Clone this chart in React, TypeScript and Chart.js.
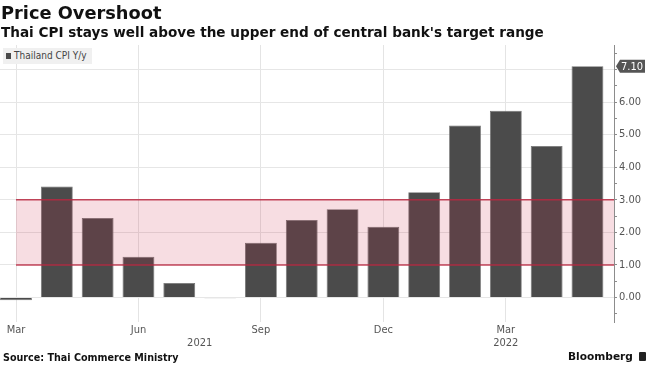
import React, { useEffect, useRef } from 'react';
import { Chart, registerables } from 'chart.js';

Chart.register(...registerables);

const months = ['Mar', 'Apr', 'May', 'Jun', 'Jul', 'Aug', 'Sep', 'Oct', 'Nov', 'Dec', 'Jan', 'Feb', 'Mar', 'Apr', 'May'];
const monthYears = [2021, 2021, 2021, 2021, 2021, 2021, 2021, 2021, 2021, 2021, 2022, 2022, 2022, 2022, 2022];
const cpiYoY = [-0.08, 3.41, 2.44, 1.25, 0.45, -0.02, 1.68, 2.38, 2.71, 2.17, 3.23, 5.28, 5.73, 4.65, 7.1];
const labelledMonths = ['Mar', 'Jun', 'Sep', 'Dec'];
const targetRange = [1, 3];
const yLabelValues = [0, 1, 2, 3, 4, 5, 6];
const yGridValues = [0, 1, 2, 3, 4, 5, 6, 7];
const yMinorTicks = [-0.5, 0, 0.5, 1, 1.5, 2, 2.5, 3, 3.5, 4, 4.5, 5, 5.5, 6, 6.5, 7, 7.5];
const latestValue = 7.1;

const TICK_FONT = '"DejaVu Sans Condensed", "DejaVu Sans", sans-serif';

const overlayPlugin = {
  id: 'overlays',
  afterDatasetsDraw(chart: any) {
    const { ctx, chartArea, scales } = chart;
    const x = scales.x;
    const y = scales.y;
    const left = x.getPixelForValue(0);
    const right = chartArea.right;
    const yTop = y.getPixelForValue(targetRange[1]);
    const yBot = y.getPixelForValue(targetRange[0]);
    ctx.save();
    ctx.fillStyle = 'rgba(200,30,60,0.15)';
    ctx.fillRect(left, yTop, right - left, yBot - yTop);
    ctx.strokeStyle = 'rgba(185,40,65,0.85)';
    ctx.lineWidth = 1.5;
    ctx.beginPath();
    ctx.moveTo(left, yTop);
    ctx.lineTo(right, yTop);
    ctx.moveTo(left, yBot);
    ctx.lineTo(right, yBot);
    ctx.stroke();
    ctx.restore();
  },
  afterDraw(chart: any) {
    const { ctx, chartArea, scales } = chart;
    const x = scales.x;
    const y = scales.y;
    ctx.save();
    ctx.font = `11px ${TICK_FONT}`;
    ctx.fillStyle = '#555';
    ctx.textAlign = 'center';
    ctx.textBaseline = 'middle';
    const yearsSeen: number[] = [];
    monthYears.forEach((yr) => {
      if (!yearsSeen.includes(yr)) yearsSeen.push(yr);
    });
    yearsSeen.forEach((yr) => {
      const first = monthYears.indexOf(yr);
      const last = monthYears.lastIndexOf(yr);
      const px = (x.getPixelForValue(first) + x.getPixelForValue(last)) / 2;
      ctx.fillText(String(yr), px, chartArea.bottom + 21);
    });
    const py = y.getPixelForValue(latestValue);
    const ax = chartArea.right + 2;
    ctx.fillStyle = '#555';
    ctx.beginPath();
    ctx.moveTo(ax, py);
    ctx.lineTo(ax + 4, py - 6.5);
    ctx.lineTo(ax + 29, py - 6.5);
    ctx.lineTo(ax + 29, py + 6.5);
    ctx.lineTo(ax + 4, py + 6.5);
    ctx.closePath();
    ctx.fill();
    ctx.fillStyle = '#fff';
    ctx.textAlign = 'left';
    ctx.font = `11px ${TICK_FONT}`;
    ctx.fillText(latestValue.toFixed(2), ax + 5, py + 0.5);
    ctx.restore();
  },
};

export default function App() {
  const canvasRef = useRef<HTMLCanvasElement | null>(null);

  useEffect(() => {
    if (!canvasRef.current) return;
    const chart = new Chart(canvasRef.current, {
      type: 'bar',
      data: {
        datasets: [
          {
            label: 'Thailand CPI Y/y',
            data: cpiYoY.map((v, i) => ({ x: i, y: v })),
            backgroundColor: '#4b4b4b',
            borderColor: '#707070',
            borderWidth: 0.8,
            barPercentage: 0.78,
            categoryPercentage: 1,
          },
        ],
      },
      options: {
        responsive: false,
        animation: false,
        devicePixelRatio: 1,
        layout: { padding: { top: 45, left: 0, right: 0, bottom: 0 } },
        plugins: {
          legend: { display: false },
          tooltip: { enabled: false },
        },
        scales: {
          x: {
            type: 'linear',
            offset: false,
            min: -0.392,
            max: 14.65,
            afterBuildTicks: (scale: any) => {
              scale.ticks = months.map((_, i) => ({ value: i }));
            },
            afterFit: (scale: any) => {
              scale.height = 43;
            },
            grid: {
              offset: false,
              color: (c: any) => (labelledMonths.includes(months[c.tick?.value]) ? '#e4e4e4' : 'rgba(0,0,0,0)'),
              drawTicks: false,
            },
            border: { display: false },
            ticks: {
              autoSkip: false,
              maxRotation: 0,
              padding: 2,
              color: '#555',
              font: { family: TICK_FONT, size: 11 },
              callback: (v: any) => (labelledMonths.includes(months[v]) ? months[v] : ''),
            },
          },
          y: {
            position: 'right',
            min: -0.75,
            max: 7.75,
            afterBuildTicks: (scale: any) => {
              scale.ticks = yMinorTicks.map((v) => ({ value: v }));
            },
            afterFit: (scale: any) => {
              scale.width = 36;
            },
            grid: {
              color: (c: any) => (yGridValues.includes(c.tick?.value) ? '#e6e6e6' : 'rgba(0,0,0,0)'),
              tickColor: '#8c8c8c',
              tickLength: 3,
              drawTicks: true,
            },
            border: { display: true, color: '#8c8c8c', width: 1 },
            ticks: {
              padding: 2,
              color: '#555',
              font: { family: TICK_FONT, size: 11 },
              callback: (v: any) => (yLabelValues.includes(v) ? Number(v).toFixed(2) : ''),
            },
          },
        },
      },
      plugins: [overlayPlugin],
    } as any);
    return () => chart.destroy();
  }, []);

  const font = '"DejaVu Sans", sans-serif';
  return (
    <div style={{ position: 'absolute', left: 0, top: 0, width: 650, height: 365, background: '#fff', overflow: 'hidden' }}>
      <canvas ref={canvasRef} width={650} height={365} style={{ position: 'absolute', left: 0, top: 0, width: 650, height: 365 }} />
      <div style={{ position: 'absolute', left: 1, top: 2, fontFamily: font, fontWeight: 'bold', fontSize: 17.8, color: '#111', whiteSpace: 'nowrap', lineHeight: '22px' }}>
        Price Overshoot
      </div>
      <div style={{ position: 'absolute', left: 1, top: 24, fontFamily: font, fontWeight: 'bold', fontSize: 13.6, color: '#111', whiteSpace: 'nowrap', lineHeight: '17px' }}>
        Thai CPI stays well above the upper end of central bank's target range
      </div>
      <div style={{ position: 'absolute', left: 3, top: 48, height: 16, padding: '0 5px 0 3px', background: '#f0f0f0', fontFamily: TICK_FONT, fontSize: 10, color: '#444', whiteSpace: 'nowrap', lineHeight: '16px', display: 'flex', alignItems: 'center' }}>
        <span style={{ display: 'inline-block', width: 5, height: 6, background: '#4b4b4b', marginRight: 3 }} />
        Thailand CPI Y/y
      </div>
      <div style={{ position: 'absolute', left: 3, top: 351, fontFamily: font, fontWeight: 'bold', fontSize: 9.6, color: '#111', whiteSpace: 'nowrap', lineHeight: '13px' }}>
        Source: Thai Commerce Ministry
      </div>
      <div style={{ position: 'absolute', left: 568, top: 349, fontFamily: font, fontWeight: 'bold', fontSize: 10.6, color: '#111', whiteSpace: 'nowrap', lineHeight: '15px', display: 'flex', alignItems: 'center' }}>
        Bloomberg
        <span style={{ display: 'inline-block', width: 7, height: 9, background: '#222', marginLeft: 6, borderRadius: 1 }} />
      </div>
    </div>
  );
}
